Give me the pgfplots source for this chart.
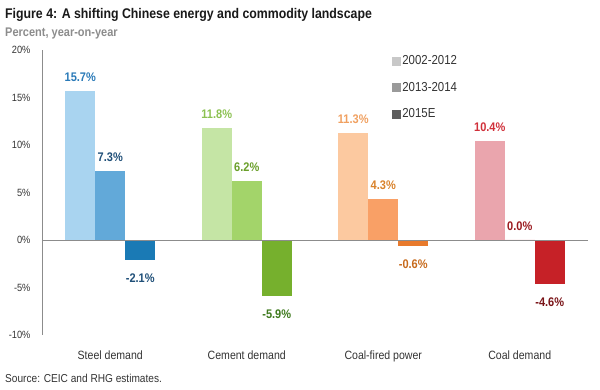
\documentclass[border=0pt]{standalone}
\usepackage{fontspec}
\setmainfont{Liberation Sans}[FakeStretch=0.88]
\usepackage{pgfplots}
\pgfplotsset{compat=1.18}
\pgfplotsset{/pgf/number format/assume math mode=true}
\definecolor{stA}{HTML}{A9D4F0}
\definecolor{stB}{HTML}{62A9D9}
\definecolor{stC}{HTML}{1A7AB5}
\definecolor{ceA}{HTML}{C5E5A5}
\definecolor{ceB}{HTML}{A3D46A}
\definecolor{ceC}{HTML}{76B02D}
\definecolor{cfA}{HTML}{FCC9A0}
\definecolor{cfB}{HTML}{F9A066}
\definecolor{cfC}{HTML}{E87A2C}
\definecolor{coA}{HTML}{EAA5AD}
\definecolor{coC}{HTML}{C62127}
\definecolor{lstA}{HTML}{2A7AB8}
\definecolor{lstB}{HTML}{1F4F78}
\definecolor{lceA}{HTML}{8CC152}
\definecolor{lceB}{HTML}{6A9F2A}
\definecolor{lceC}{HTML}{3F7A1F}
\definecolor{lcfA}{HTML}{F0A060}
\definecolor{lcfB}{HTML}{D9822B}
\definecolor{lcfC}{HTML}{C76A1C}
\definecolor{lcoA}{HTML}{D0303A}
\definecolor{lcoB}{HTML}{9B1B20}
\definecolor{lcoC}{HTML}{7A1418}
\definecolor{lgA}{HTML}{C8C8C8}
\definecolor{lgB}{HTML}{9A9A9A}
\definecolor{lgC}{HTML}{5E5E5E}
\definecolor{txt}{HTML}{333333}
\definecolor{axl}{HTML}{8C8C8C}
\begin{document}
\begin{tikzpicture}[x=1pt,y=1pt]
\useasboundingbox (-42,-55) rectangle (558,335);
\begin{axis}[
  at={(0,0)}, anchor=south west,
  width=546pt, height=285pt, scale only axis,
  xmin=-0.5, xmax=3.5, ymin=-10, ymax=20,
  ybar, bar width=30pt,
  axis lines*=left,
  x axis line style={draw=none},
  y axis line style={axl, line width=0.8pt},
  major tick length=0pt,
  xtick={0,1,2,3},
  xticklabels={Steel demand,Cement demand,Coal-fired power,Coal demand},
  xticklabel style={font=\fontsize{12}{14}\selectfont, text=txt, yshift=-12pt},
  ytick={-10,-5,0,5,10,15,20},
  yticklabel={\pgfmathprintnumber{\tick}\%},
  yticklabel style={font=\fontsize{10.5}{13}\selectfont, text=txt, xshift=-8pt},
  clip=false,
  nodes near coords={\pgfmathprintnumber[fixed,zerofill,precision=1]{\pgfplotspointmeta}\%},
  nodes near coords align={vertical},
  every node near coord/.append style={font=\bfseries\fontsize{12.5}{14}\selectfont, inner sep=9pt},
  legend style={at={(rel axis cs:0.635,0.995)}, anchor=north west, draw=none, fill=none,
    font=\fontsize{13}{15}\selectfont, text=txt, row sep=12pt, cells={anchor=west}},
]
\addlegendimage{legend image code/.code={\fill[lgA] (0pt,-4pt) rectangle (8pt,4pt);}}
\addlegendimage{legend image code/.code={\fill[lgB] (0pt,-4pt) rectangle (8pt,4pt);}}
\addlegendimage{legend image code/.code={\fill[lgC] (0pt,-4pt) rectangle (8pt,4pt);}}
\legend{2002-2012,2013-2014,2015E}
% Steel
\addplot[forget plot, fill=stA, draw=none, bar shift=-30pt, nodes near coords style={text=lstA}] coordinates {(0,15.7)};
\addplot[forget plot, fill=stB, draw=none, bar shift=0pt, nodes near coords style={text=lstB}] coordinates {(0,7.3)};
\addplot[forget plot, fill=stC, draw=none, bar shift=30pt, nodes near coords style={text=lstB, yshift=-5pt}] coordinates {(0,-2.1)};
% Cement
\addplot[forget plot, fill=ceA, draw=none, bar shift=-30pt, nodes near coords style={text=lceA}] coordinates {(1,11.8)};
\addplot[forget plot, fill=ceB, draw=none, bar shift=0pt, nodes near coords style={text=lceB}] coordinates {(1,6.2)};
\addplot[forget plot, fill=ceC, draw=none, bar shift=30pt, nodes near coords style={text=lceC, yshift=-5pt}] coordinates {(1,-5.9)};
% Coal-fired power
\addplot[forget plot, fill=cfA, draw=none, bar shift=-30pt, nodes near coords style={text=lcfA}] coordinates {(2,11.3)};
\addplot[forget plot, fill=cfB, draw=none, bar shift=0pt, nodes near coords style={text=lcfB}] coordinates {(2,4.3)};
\addplot[forget plot, fill=cfC, draw=none, bar shift=30pt, nodes near coords style={text=lcfC, yshift=-5pt}] coordinates {(2,-0.6)};
% Coal demand
\addplot[forget plot, fill=coA, draw=none, bar shift=-30pt, nodes near coords style={text=lcoA}] coordinates {(3,10.4)};
\addplot[forget plot, fill=coA, draw=none, bar shift=0pt, nodes near coords style={text=lcoB}] coordinates {(3,0.0)};
\addplot[forget plot, fill=coC, draw=none, bar shift=30pt, nodes near coords style={text=lcoC, yshift=-5pt}] coordinates {(3,-4.6)};
\draw[axl, line width=0.8pt] (axis cs:-0.5,0) -- (axis cs:3.5,0);
\end{axis}
\node[anchor=north west, inner sep=0pt, font=\bfseries\fontsize{14}{16}\selectfont, text=black!90] at (-37,327) {Figure 4: A shifting Chinese energy and commodity landscape};
\node[anchor=north west, inner sep=0pt, font=\bfseries\fontsize{12.5}{14}\selectfont, text=black!45] at (-37,307) {Percent, year-on-year};
\node[anchor=west, inner sep=0pt, font=\fontsize{11.5}{13}\selectfont, text=txt] at (-37,-43) {Source: CEIC and RHG estimates.};
\end{tikzpicture}
\end{document}
